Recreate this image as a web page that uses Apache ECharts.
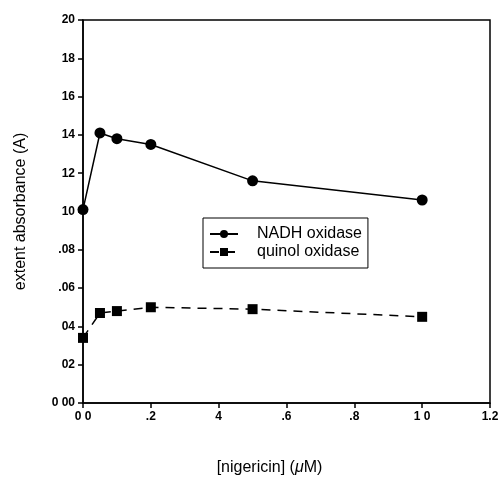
<!DOCTYPE html>
<html>
<head>
<meta charset="utf-8">
<script src="https://cdn.jsdelivr.net/npm/echarts@6/dist/echarts.min.js"></script>
<style>
html,body{margin:0;padding:0;background:#fff;}
#chartDiv{width:500px;height:478px;}
</style>
</head>
<body>
<div id="chartDiv"></div>
<script>
// nigericin concentration (uM)
var nigericin = [0, 0.05, 0.1, 0.2, 0.5, 1.0];
var nadhOxidase = [0.101, 0.141, 0.138, 0.135, 0.116, 0.106];
var quinolOxidase = [0.034, 0.047, 0.048, 0.050, 0.049, 0.045];

// tick labels as printed on the figure
var xTickLabels = {'0': '0 0', '0.2': '.2', '0.4': '4', '0.6': '.6', '0.8': '.8', '1': '1 0', '1.2': '1.2'};
var yTickLabels = ['0 00', '02', '04', '.06', '.08', '10', '12', '14', '16', '18', '20'];

var myChart = echarts.init(document.getElementById('chartDiv'));

function pairs(xs, ys) {
	var out = [];
	for (var i = 0; i < xs.length; i++) {
		out.push([xs[i], ys[i]]);
	}
	return out;
}

var axisFont = {color: '#000', fontFamily: 'Liberation Sans', fontSize: 12, fontWeight: 'bold'};

var option = {
	animation: false,
	grid: {left: 83, right: 10, top: 20, bottom: 75, show: true, borderColor: '#000', borderWidth: 1.5, outerBoundsMode: 'none'},
	legend: {
		orient: 'vertical',
		left: 203,
		top: 218,
		padding: [8, 6, 8, 6],
		itemGap: 2,
		itemWidth: 28,
		itemHeight: 10,
		borderColor: '#000',
		borderWidth: 1,
		textStyle: {color: '#000', fontFamily: 'Liberation Sans', fontSize: 16, padding: [0, 0, 0, 14]},
		data: ['NADH oxidase', 'quinol oxidase']
	},
	xAxis: {
		type: 'value',
		min: 0,
		max: 1.2,
		interval: 0.2,
		name: '[nigericin] ({i|\u03bc}M)',
		nameLocation: 'middle',
		nameGap: 57,
		nameTextStyle: {
			color: '#000', fontFamily: 'Liberation Sans', fontSize: 16, padding: [0, 34, 0, 0],
			rich: {i: {fontStyle: 'italic', fontFamily: 'Liberation Sans', fontSize: 16, color: '#000'}}
		},
		axisLine: {lineStyle: {color: '#000', width: 1.5}},
		axisTick: {inside: false, length: 5, lineStyle: {color: '#000', width: 1.5}},
		splitLine: {show: false},
		axisLabel: Object.assign({margin: 8, formatter: function (v) {
			var k = String(Math.round(v * 10) / 10);
			return xTickLabels[k] !== undefined ? xTickLabels[k] : '';
		}}, axisFont)
	},
	yAxis: {
		type: 'value',
		min: 0,
		max: 0.2,
		interval: 0.02,
		name: 'extent absorbance (A)',
		nameLocation: 'middle',
		nameGap: 54,
		nameTextStyle: {color: '#000', fontFamily: 'Liberation Sans', fontSize: 16},
		axisLine: {lineStyle: {color: '#000', width: 1.5}},
		axisTick: {inside: false, length: 5, lineStyle: {color: '#000', width: 1.5}},
		splitLine: {show: false},
		axisLabel: Object.assign({margin: 8, formatter: function (v) {
			var idx = Math.round(v / 0.02);
			return yTickLabels[idx] !== undefined ? yTickLabels[idx] : '';
		}}, axisFont)
	},
	series: [
		{
			name: 'NADH oxidase',
			type: 'line',
			data: pairs(nigericin, nadhOxidase),
			symbol: 'circle',
			symbolSize: 11,
			itemStyle: {color: '#000'},
			lineStyle: {color: '#000', width: 1.5}
		},
		{
			name: 'quinol oxidase',
			type: 'line',
			data: pairs(nigericin, quinolOxidase),
			symbol: 'rect',
			symbolSize: 10,
			itemStyle: {color: '#000'},
			lineStyle: {color: '#000', width: 1.5, type: [9, 7]}
		}
	]
};

myChart.setOption(option);
</script>
</body>
</html>
